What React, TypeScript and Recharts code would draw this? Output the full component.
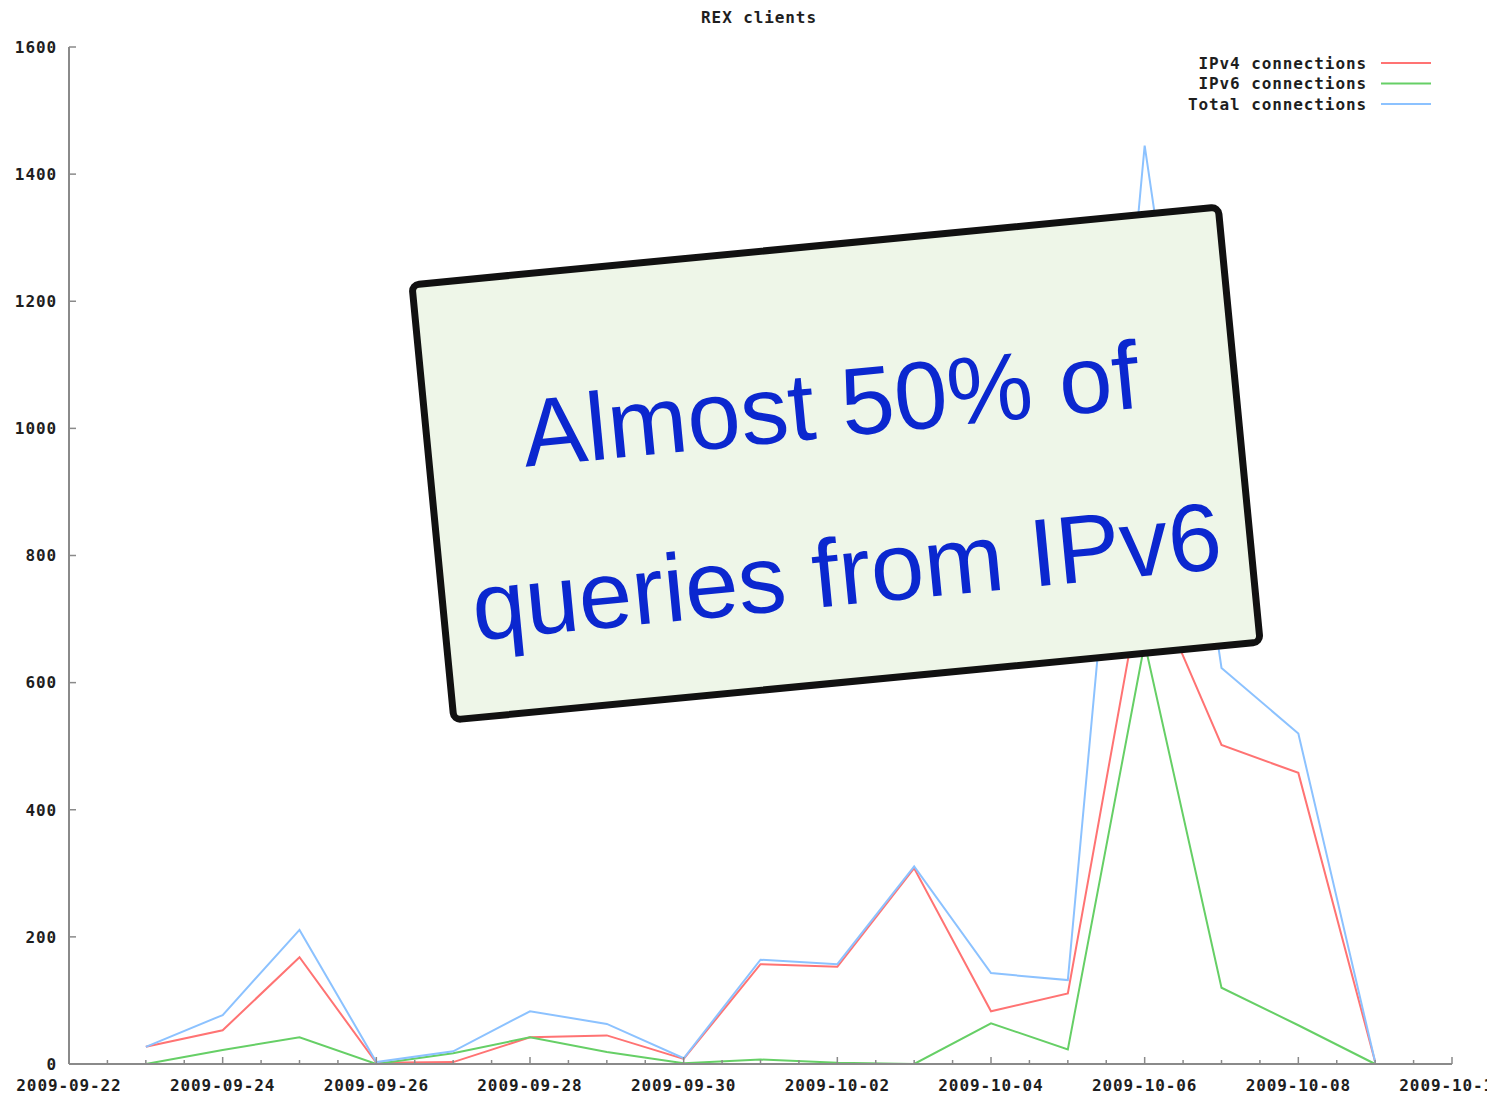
import React from 'react';
import { LineChart, Line, XAxis, YAxis } from 'recharts';

// ---- data ----
const dates = [
  '2009-09-23', '2009-09-24', '2009-09-25', '2009-09-26', '2009-09-27', '2009-09-28',
  '2009-09-29', '2009-09-30', '2009-10-01', '2009-10-02', '2009-10-03', '2009-10-04',
  '2009-10-05', '2009-10-06', '2009-10-07', '2009-10-08', '2009-10-09',
];
const dayOffsets = [1, 2, 3, 4, 5, 6, 7, 8, 9, 10, 11, 12, 13, 14, 15, 16, 17];
const ipv4 = [27, 53, 168, 2, 3, 42, 45, 8, 157, 153, 308, 83, 111, 782, 502, 458, 3];
const ipv6 = [0, 22, 42, 0, 17, 42, 19, 1, 7, 2, 0, 64, 23, 662, 120, 61, 0];
const total = [27, 77, 211, 3, 20, 83, 63, 9, 164, 157, 311, 143, 132, 1445, 623, 520, 3];

const xMajorLabels = [
  '2009-09-22', '2009-09-24', '2009-09-26', '2009-09-28', '2009-09-30',
  '2009-10-02', '2009-10-04', '2009-10-06', '2009-10-08', '2009-10-10',
];
const xTicks = [
  0, 0.5, 1, 1.5, 2, 2.5, 3, 3.5, 4, 4.5, 5, 5.5, 6, 6.5, 7, 7.5, 8, 8.5, 9, 9.5,
  10, 10.5, 11, 11.5, 12, 12.5, 13, 13.5, 14, 14.5, 15, 15.5, 16, 16.5, 17, 17.5, 18,
];
const yTicks = [0, 200, 400, 600, 800, 1000, 1200, 1400, 1600];

const seriesNames = ['IPv4 connections', 'IPv6 connections', 'Total connections'];
const title = 'REX clients';
const noteLines = ['Almost 50% of', 'queries from IPv6'];

const data = dates.map((d, i) => ({
  date: d,
  t: dayOffsets[i],
  ipv4: ipv4[i],
  ipv6: ipv6[i],
  total: total[i],
}));

// ---- styles ----
const MONO = '"DejaVu Sans Mono", monospace';
const AXIS = '#8a8a8a';
const TXT = '#1e1e1e';
const COLORS = ['#ff7373', '#66cf66', '#8cc2ff'];

const XTick = (props: any) => {
  const { x, y, payload } = props;
  const v = payload.value as number;
  const major = v % 2 === 0;
  return (
    <g>
      <line x1={x} x2={x} y1={y} y2={y - (major ? 7 : 4)} stroke={AXIS} strokeWidth={1.5} />
      {major && (
        <text x={x} y={y + 27} textAnchor="middle" fontFamily={MONO} fontWeight="bold"
          fontSize={16} letterSpacing={0.9} fill={TXT}>
          {xMajorLabels[v / 2]}
        </text>
      )}
    </g>
  );
};

const YTick = (props: any) => {
  const { x, y, payload } = props;
  return (
    <g>
      <line x1={x} x2={x + 7} y1={y} y2={y} stroke={AXIS} strokeWidth={1.5} />
      <text x={57} y={y} dy="0.36em" textAnchor="end" fontFamily={MONO} fontWeight="bold"
        fontSize={16} letterSpacing={0.9} fill={TXT}>
        {payload.value}
      </text>
    </g>
  );
};

export default function App() {
  return (
    <div style={{ position: 'absolute', left: 0, top: 0, width: 1487, height: 1094, background: '#fff' }}>
      <LineChart width={1487} height={1094} data={data}
        margin={{ top: 47, right: 35, bottom: 0, left: 0 }}>
        <XAxis type="number" dataKey="t" domain={[0, 18]} ticks={xTicks} interval={0}
          tick={<XTick />} tickLine={false} tickSize={0} tickMargin={0} height={30}
          axisLine={{ stroke: AXIS, strokeWidth: 2 }} allowDataOverflow />
        <YAxis type="number" domain={[0, 1600]} ticks={yTicks} interval={0}
          tick={<YTick />} tickLine={false} tickSize={0} tickMargin={0} width={69}
          axisLine={{ stroke: AXIS, strokeWidth: 2 }} />
        <Line type="linear" dataKey="ipv4" name={seriesNames[0]} stroke={COLORS[0]} strokeWidth={2}
          dot={false} isAnimationActive={false} />
        <Line type="linear" dataKey="ipv6" name={seriesNames[1]} stroke={COLORS[1]} strokeWidth={2}
          dot={false} isAnimationActive={false} />
        <Line type="linear" dataKey="total" name={seriesNames[2]} stroke={COLORS[2]} strokeWidth={2}
          dot={false} isAnimationActive={false} />
      </LineChart>
      <svg width={1487} height={1094}
        style={{ position: 'absolute', left: 0, top: 0, pointerEvents: 'none' }}>
        <text x={759} y={17} dy="0.36em" textAnchor="middle" fontFamily={MONO} fontWeight="bold"
          fontSize={16} letterSpacing={0.9} fill={TXT}>
          {title}
        </text>
        <g transform="translate(1090 52)">
          {seriesNames.map((n, i) => (
            <g key={n}>
              <text x={277} y={11 + i * 20.5} dy="0.36em" textAnchor="end" fontFamily={MONO}
                fontWeight="bold" fontSize={16} letterSpacing={0.9} fill={TXT}>
                {n}
              </text>
              <line x1={291} x2={341} y1={11 + i * 20.5} y2={11 + i * 20.5} stroke={COLORS[i]} strokeWidth={2} />
            </g>
          ))}
        </g>
        <g transform="translate(836 463) rotate(-5.5)">
          <rect x={-405} y={-218} width={810} height={437} rx={7} fill="#eef6e8"
            stroke="#111" strokeWidth={7} />
          <text x={0} y={-26} textAnchor="middle" fontFamily='"Liberation Sans", Arial, sans-serif'
            fontSize={96} fill="#0b27cf">
            {noteLines[0]}
          </text>
          <text x={0} y={142} textAnchor="middle" fontFamily='"Liberation Sans", Arial, sans-serif'
            fontSize={96} fill="#0b27cf">
            {noteLines[1]}
          </text>
        </g>
      </svg>
    </div>
  );
}
